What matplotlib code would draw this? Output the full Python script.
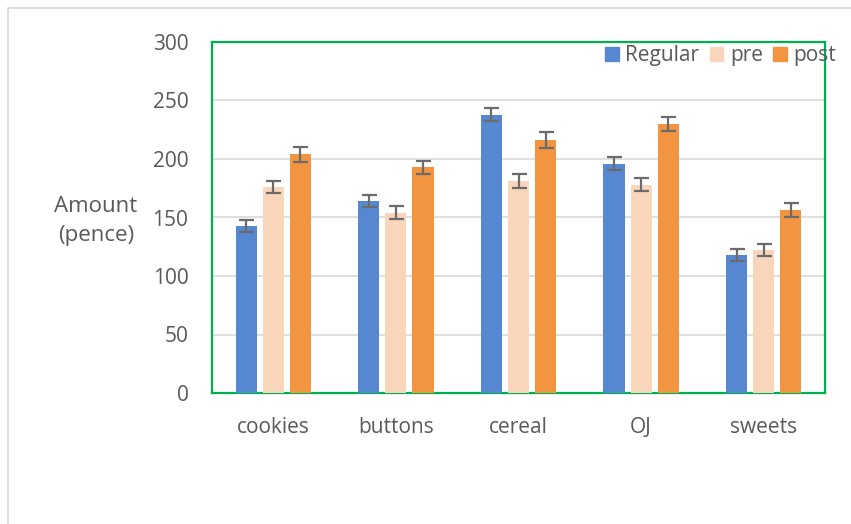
import matplotlib
matplotlib.use('Agg')
import matplotlib.pyplot as plt
import numpy as np
from matplotlib.patches import Rectangle, Patch

plt.rcParams['font.family'] = ['Open Sans', 'DejaVu Sans']

# data
categories = ['cookies', 'buttons', 'cereal', 'OJ', 'sweets']
series = ['Regular', 'pre', 'post']
regular = [143, 164, 238, 196, 118]
pre = [176, 154, 181, 178, 122]
post = [204, 193, 216, 230, 156]
regular_err = [5, 5.3, 5.4, 5.8, 5.4]
pre_err = [5.3, 5.5, 5.8, 5.6, 5.3]
post_err = [6.5, 5.5, 7, 5.9, 6]
yticks = [0, 50, 100, 150, 200, 250, 300]

colors = ['#5588D0', '#F9D5BB', '#F29440']
text_color = '#595959'

W, H = 851, 524
fig = plt.figure(figsize=(W / 100, H / 100), dpi=100)
ax = fig.add_axes([212 / W, 1 - 393 / H, (825 - 212) / W, (393 - 42) / H])

x = np.arange(len(categories))
width = 0.172
step = 0.221
values = [regular, pre, post]
errs = [regular_err, pre_err, post_err]
for j, (vals, err) in enumerate(zip(values, errs)):
    ax.bar(x + (j - 1) * step, vals, width, color=colors[j], label=series[j],
           yerr=err, capsize=5.4,
           error_kw=dict(ecolor='#6b6b6b', elinewidth=1.6, capthick=1.6),
           zorder=3)

ax.set_xlim(-0.5, len(categories) - 0.5)
ax.set_ylim(0, 300)
ax.set_yticks(yticks)
ax.set_xticks(x)
ax.set_xticklabels(categories)
ax.tick_params(axis='both', length=0, labelsize=15, colors=text_color)
ax.tick_params(axis='x', pad=17)
ax.tick_params(axis='y', pad=17)
ax.yaxis.grid(True, color='#d9d9d9', linewidth=1.2, zorder=0)
ax.set_axisbelow(True)
for s in ax.spines.values():
    s.set_color('#00B050')
    s.set_linewidth(1.6)

fig.text(96 / W, 1 - 221 / H, 'Amount\n(pence)', ha='center', va='center',
         fontsize=16, color=text_color, linespacing=1.45)

handles = [Patch(color=c) for c in colors]
leg = ax.legend(handles, series, loc='center left',
                bbox_to_anchor=(605 / W, 1 - 56 / H), bbox_transform=fig.transFigure,
                ncol=3, frameon=False, fontsize=15, handlelength=0.65,
                handleheight=0.65, handletextpad=0.32, columnspacing=0.5,
                borderpad=0, borderaxespad=0)
for t in leg.get_texts():
    t.set_color(text_color)
leg.set_zorder(5)

# outer chart border
fig.patches.append(Rectangle((8 / W, -0.1), 1.2, 1 - 8 / H + 0.1,
                             transform=fig.transFigure, fill=False,
                             edgecolor='#d9d9d9', linewidth=1.2))

plt.savefig('out.png', dpi=100)
plt.close()
